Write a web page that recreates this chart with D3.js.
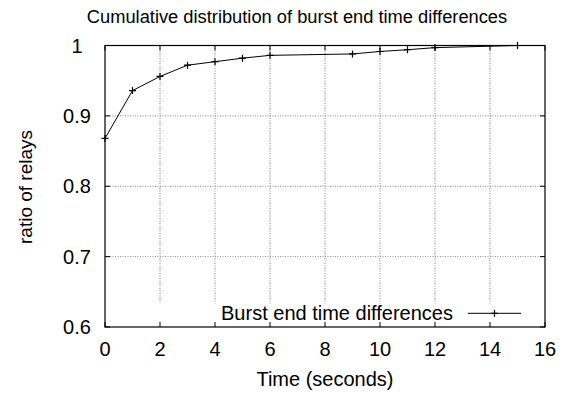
<!DOCTYPE html>
<meta charset="utf-8">
<head>
    <title>Burst end time CDF</title>
    <script type="text/javascript" src="https://cdn.jsdelivr.net/npm/d3@7"></script>
    <style>
        body { margin: 0; background: #fff; }
        text { font-family: "Liberation Sans", Arial, sans-serif; fill: #000; }
        .grid line { stroke: #888; stroke-dasharray: 1,1.5; stroke-width: 1; }
    </style>
</head>
<body>
<div id="chart"></div>
<script>
    // data
    var timeSec = [0, 1, 2, 3, 4, 5, 6, 9, 10, 11, 12, 15];
    var ratio = [0.868, 0.936, 0.956, 0.972, 0.977, 0.982, 0.986, 0.988, 0.9915, 0.994, 0.997, 1.0];
    var xTicks = [0, 2, 4, 6, 8, 10, 12, 14, 16];
    var yTicks = [0.6, 0.7, 0.8, 0.9, 1];
    var seriesName = "Burst end time differences";

    var margin = { top: 45.5, right: 24, bottom: 66, left: 105 },
        W = 569, H = 393,
        width = W - margin.left - margin.right,
        height = H - margin.top - margin.bottom;

    var svg = d3.select("#chart").append("svg")
        .attr("width", W)
        .attr("height", H);

    var g = svg.append("g")
        .attr("transform", "translate(" + margin.left + "," + margin.top + ")");

    var x = d3.scaleLinear().domain([0, 16]).range([0, width]);
    var y = d3.scaleLinear().domain([0.6, 1]).range([height, 0]);

    // legend box area, grid is hidden behind it
    var keyTop = 258;

    // grid
    var grid = g.append("g").attr("class", "grid");
    grid.selectAll(".gx")
        .data(xTicks.slice(1, -1))
        .enter().append("line")
        .attr("x1", d => x(d)).attr("x2", d => x(d))
        .attr("y1", 0).attr("y2", keyTop);
    grid.selectAll(".gy")
        .data(yTicks.slice(1, -1))
        .enter().append("line")
        .attr("x1", 0).attr("x2", width)
        .attr("y1", d => y(d)).attr("y2", d => y(d));

    // inward ticks on all four sides (gnuplot style)
    var tk = 5;
    var ticks = g.append("g").attr("stroke", "#000").attr("stroke-width", 1);
    xTicks.forEach(function (d) {
        ticks.append("line").attr("x1", x(d)).attr("x2", x(d)).attr("y1", height).attr("y2", height - tk);
        ticks.append("line").attr("x1", x(d)).attr("x2", x(d)).attr("y1", 0).attr("y2", tk);
    });
    yTicks.forEach(function (d) {
        ticks.append("line").attr("x1", 0).attr("x2", tk).attr("y1", y(d)).attr("y2", y(d));
        ticks.append("line").attr("x1", width).attr("x2", width - tk).attr("y1", y(d)).attr("y2", y(d));
    });

    // tick labels
    g.selectAll(".xl")
        .data(xTicks)
        .enter().append("text")
        .attr("x", d => x(d))
        .attr("y", height + 29)
        .attr("text-anchor", "middle")
        .style("font-size", "20px")
        .text(d => d);
    g.selectAll(".yl")
        .data(yTicks)
        .enter().append("text")
        .attr("x", -28)
        .attr("y", d => y(d) + 7)
        .attr("text-anchor", "middle")
        .style("font-size", "20px")
        .text(d => d3.format("")(d));

    // border
    g.append("rect")
        .attr("width", width).attr("height", height)
        .attr("fill", "none").attr("stroke", "#000").attr("stroke-width", 1.2);

    // data line
    var line = d3.line().x((d, i) => x(timeSec[i])).y(d => y(d));
    g.append("path")
        .datum(ratio)
        .attr("fill", "none")
        .attr("stroke", "#000")
        .attr("stroke-width", 1)
        .attr("d", line);

    function plus(sel, cx, cy) {
        var s = 3.5;
        sel.append("path")
            .attr("d", "M" + (cx - s) + "," + cy + "H" + (cx + s) + "M" + cx + "," + (cy - s) + "V" + (cy + s))
            .attr("stroke", "#000").attr("stroke-width", 1.2);
    }
    var marks = g.append("g");
    ratio.forEach(function (d, i) { plus(marks, x(timeSec[i]), y(d)); });

    // legend
    var ky = 267.8;
    g.append("text")
        .attr("x", 348).attr("y", ky + 7)
        .attr("text-anchor", "end")
        .style("font-size", "20px")
        .text(seriesName);
    g.append("line")
        .attr("x1", 363).attr("x2", 416).attr("y1", ky).attr("y2", ky)
        .attr("stroke", "#000").attr("stroke-width", 1);
    plus(g, 389.5, ky);

    // titles
    svg.append("text")
        .attr("x", 297).attr("y", 22.5)
        .attr("text-anchor", "middle")
        .style("font-size", "18.3px")
        .text("Cumulative distribution of burst end time differences");
    svg.append("text")
        .attr("x", 325).attr("y", 386)
        .attr("text-anchor", "middle")
        .style("font-size", "20px")
        .text("Time (seconds)");
    svg.append("text")
        .attr("transform", "translate(32,187) rotate(-90)")
        .attr("text-anchor", "middle")
        .style("font-size", "19px")
        .text("ratio of relays");
</script>
</body>
</html>
